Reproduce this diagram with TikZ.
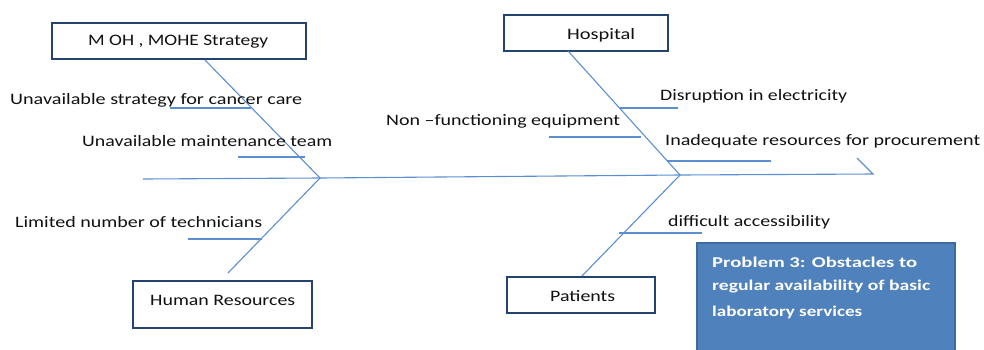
\documentclass[tikz,border=0pt]{standalone}
\usepackage{fontspec}
\setmainfont{Carlito}
\usepackage{graphicx}
\newcommand\fitw[2]{\resizebox{#1bp}{\height}{#2}}
\definecolor{bone}{HTML}{5B8FCF}
\definecolor{boxline}{HTML}{24436E}
\definecolor{probfill}{HTML}{4F81BD}
\definecolor{probline}{HTML}{3D6B9E}
\definecolor{txt}{HTML}{111111}
\tikzset{
  boneline/.style={draw=bone, line width=1.1bp},
  catbox/.style={draw=boxline, line width=2.8bp, fill=white, inner sep=0pt},
  lbl/.style={anchor=west, inner sep=0pt, text=txt, font=\fontsize{16}{19}\selectfont},
  plbl/.style={anchor=west, inner sep=0pt, text=white, font=\fontsize{15}{18}\selectfont\bfseries},
}
\begin{document}
\begin{tikzpicture}[x=1bp,y=-1bp]
\useasboundingbox (0,0) rectangle (984,349);
% category boxes
\node[catbox, minimum width=254bp, minimum height=36bp] (moh) at (179,41) {};
\node[catbox, minimum width=164bp, minimum height=36bp] (hosp) at (586,33) {};
\node[catbox, minimum width=179bp, minimum height=47bp] (hr) at (222.5,304.5) {};
\node[catbox, minimum width=148bp, minimum height=36bp] (pat) at (581,295) {};
\node[lbl] at (88,42) {\fitw{180}{M OH , MOHE Strategy}};
\node[lbl] at (567,35) {\fitw{68}{Hospital}};
\node[lbl] at (150,300) {\fitw{145}{Human Resources}};
\node[lbl] at (550,296) {\fitw{65}{Patients}};
% problem box
\node[draw=probline, fill=probfill, line width=1.2bp, minimum width=258bp, minimum height=108bp, inner sep=0pt] (prob) at (826,297) {};
\node[plbl] at (712,262) {\fitw{205}{Problem 3: Obstacles to}};
\node[plbl] at (712,287) {\fitw{218}{regular availability of basic}};
\node[plbl] at (712,312) {\fitw{150}{laboratory services}};
% spine
\coordinate (tail) at (143,179);
\coordinate (j1) at (320,178);
\coordinate (j2) at (680,175);
\coordinate (head) at (873,174);
\coordinate (tip) at (857,158);
\draw[boneline] (tail) -- (j1) -- (j2) -- (head) -- (tip);
% bones
\coordinate (mohb) at (205,60);
\coordinate (hospb) at (568,51);
\coordinate (hrb) at (228,273);
\coordinate (patb) at (582,276);
\draw[boneline] (mohb) -- (j1) -- (hrb);
\draw[boneline] (hospb) -- (j2) -- (patb);
% sub-branches
\coordinate (s1a) at (170,108); \coordinate (s1b) at (251,108);
\coordinate (s2a) at (238,157); \coordinate (s2b) at (305,157);
\coordinate (s3a) at (188,239); \coordinate (s3b) at (262,239);
\coordinate (s4a) at (620,108); \coordinate (s4b) at (678,108);
\coordinate (s5a) at (549,137); \coordinate (s5b) at (641,137);
\coordinate (s6a) at (667,161); \coordinate (s6b) at (771,161);
\coordinate (s7a) at (619,233); \coordinate (s7b) at (702,233);
\foreach \a/\b in {s1a/s1b,s2a/s2b,s3a/s3b,s4a/s4b,s5a/s5b,s6a/s6b,s7a/s7b}
  \draw[boneline] (\a) -- (\b);
% cause labels
\node[lbl] (t1) at (10,100) {\fitw{292}{Unavailable strategy for cancer care}};
\node[lbl] (t2) at (82,141) {\fitw{250}{Unavailable maintenance team}};
\node[lbl] (t3) at (15,222) {\fitw{247}{Limited number of technicians}};
\node[lbl] (t4) at (386,121) {\fitw{234}{Non \textendash functioning equipment}};
\node[lbl] (t5) at (660,96) {\fitw{187}{Disruption in electricity}};
\node[lbl] (t6) at (665,141) {\fitw{315}{Inadequate resources for procurement}};
\node[lbl] (t7) at (668,222) {\fitw{162}{difficult accessibility}};
\end{tikzpicture}
\end{document}
